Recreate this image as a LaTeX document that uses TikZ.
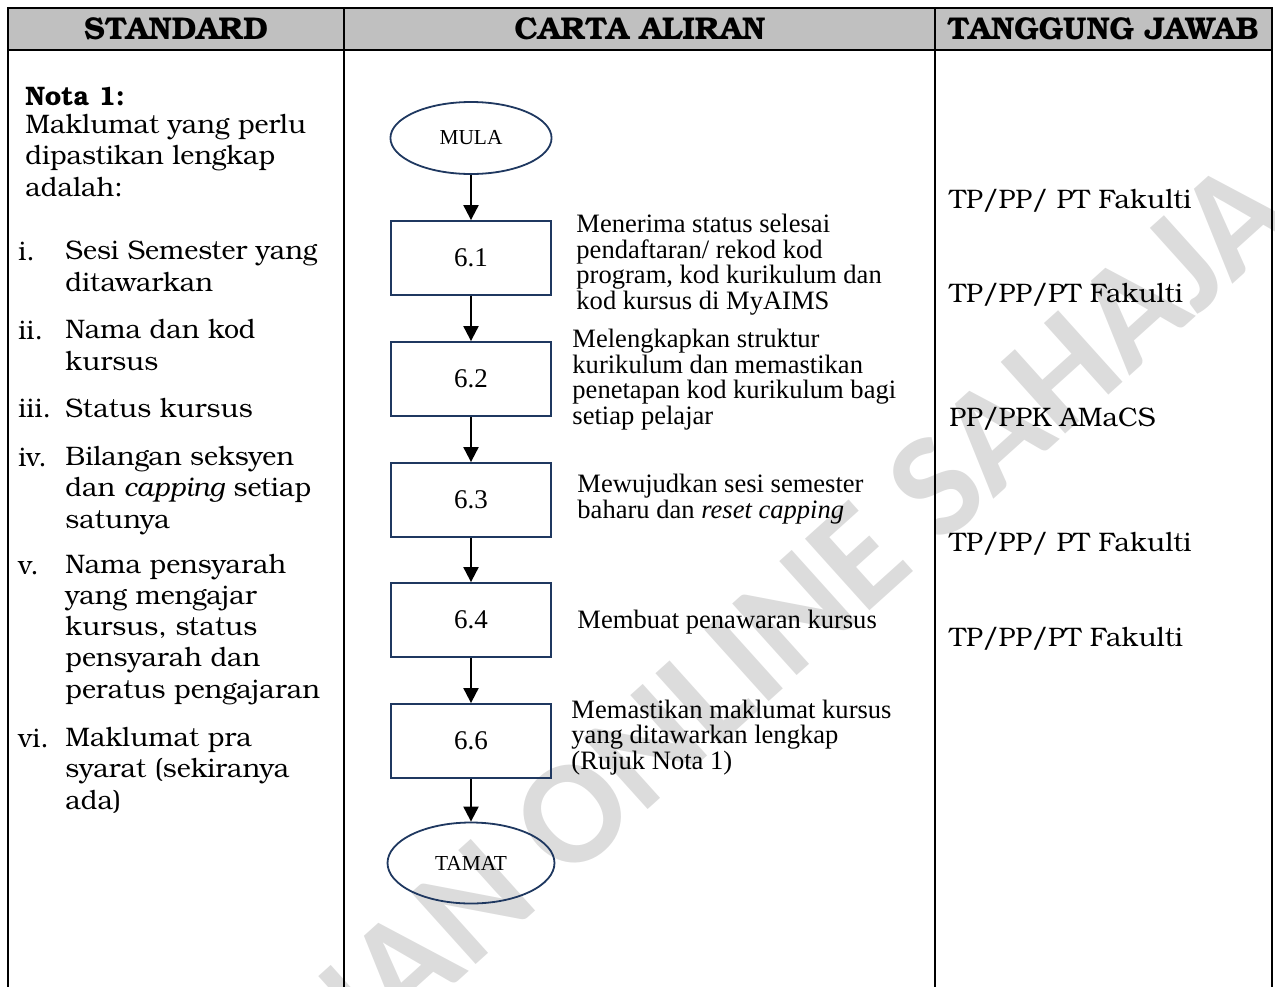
\documentclass[tikz,border=0pt]{standalone}
\usepackage{fontspec}
\usetikzlibrary{arrows.meta,shapes.geometric}
\IfFontExistsTF{TeX Gyre Bonum}{\setmainfont{TeX Gyre Bonum}}{\setmainfont{DejaVu Serif}}
\newfontfamily\flowfont{Liberation Serif}
\newfontfamily\wmfont{Carlito}
\definecolor{navy}{RGB}{31,56,96}
\definecolor{hdrgray}{RGB}{192,192,192}
\definecolor{wmgray}{RGB}{220,220,220}
\tikzset{
  grid/.style={line width=1.3pt, black},
  hdr/.style={font=\fontsize{14}{16}\selectfont\bfseries, anchor=base, inner sep=0pt},
  lefttxt/.style={font=\fontsize{11.9}{13.8}\selectfont, anchor=base west, align=left, inner sep=0pt},
  resp/.style={font=\fontsize{11.9}{13.8}\selectfont, anchor=base west, inner sep=0pt},
  stepbox/.style={draw=navy, line width=0.8pt, minimum width=71.1pt, minimum height=32.9pt, inner sep=0pt, font=\flowfont\fontsize{12}{13}\selectfont},
  term/.style={ellipse, draw=navy, line width=0.8pt, inner sep=0pt, font=\flowfont\fontsize{9.5}{11}\selectfont},
  desc/.style={font=\flowfont\fontsize{11.8}{11.3}\selectfont, anchor=base west, align=left, inner sep=0pt},
  flow/.style={line width=0.9pt, -{Triangle[length=6.7pt,width=6.7pt]}},
  wm/.style={font=\wmfont\bfseries\fontsize{66}{66}\selectfont, text=wmgray, inner sep=0pt},
}
\begin{document}
\begin{tikzpicture}[x=0.4444pt,y=-0.4444pt]
\useasboundingbox (0,0) rectangle (1275,986);
% watermark
\begin{scope}
\clip (0,0) rectangle (1275,986);
\node[wm, rotate=42] (wm) at (685,712) {SALINAN ONLINE SAHAJA};
\end{scope}
% table
\fill[hdrgray] (8,8) rectangle (1272,50);
\draw[grid, line cap=rect] (8,992) -- (8,8) -- (1272,8) -- (1272,992);
\draw[grid] (8,50) -- (1272,50);
\draw[grid] (344,8) -- (344,992);
\draw[grid] (935,8) -- (935,992);
% headers
\node[hdr] (h1) at (176,39) {STANDARD};
\node[hdr] (h2) at (640,39) {CARTA ALIRAN};
\node[hdr] (h3) at (1103,39) {TANGGUNG JAWAB};
% left column (multi-line nodes are placed by the baseline of their last line)
\node[lefttxt] (nota) at (25,105) {\textbf{Nota 1:}};
\node[lefttxt] (intro) at (25,196) {Maklumat yang perlu\\dipastikan lengkap\\adalah:};
\node[lefttxt] (n1) at (18,260) {i.};
\node[lefttxt] (t1) at (65,291) {Sesi Semester yang\\ditawarkan};
\node[lefttxt] (n2) at (18,339) {ii.};
\node[lefttxt] (t2) at (65,370) {Nama dan kod\\kursus};
\node[lefttxt] (n3) at (18,417) {iii.};
\node[lefttxt] (t3) at (65,417) {Status kursus};
\node[lefttxt] (n4) at (18,466) {iv.};
\node[lefttxt] (t4) at (65,528) {Bilangan seksyen\\dan \textit{capping} setiap\\satunya};
\node[lefttxt] (n5) at (18,574) {v.};
\node[lefttxt] (t5) at (65,698) {Nama pensyarah\\yang mengajar\\kursus, status\\pensyarah dan\\peratus pengajaran};
\node[lefttxt] (n6) at (18,747) {vi.};
\node[lefttxt] (t6) at (65,809) {Maklumat pra\\syarat (sekiranya\\ada)};
% right column
\node[resp] (r1) at (949,208) {TP/PP/ PT Fakulti};
\node[resp] (r2) at (949,302) {TP/PP/PT Fakulti};
\node[resp] (r3) at (949,426) {PP/PPK AMaCS};
\node[resp] (r4) at (949,551) {TP/PP/ PT Fakulti};
\node[resp] (r5) at (949,646) {TP/PP/PT Fakulti};
% flowchart
\node[term, minimum width=71.6pt, minimum height=32pt] (mula) at (471,138) {MULA};
\node[stepbox] (b1) at (471,258) {6.1};
\node[stepbox] (b2) at (471,379) {6.2};
\node[stepbox] (b3) at (471,500) {6.3};
\node[stepbox] (b4) at (471,620) {6.4};
\node[stepbox] (b6) at (471,741) {6.6};
\node[term, minimum width=74.2pt, minimum height=36pt] (tamat) at (471,863) {TAMAT};
\draw[flow] (mula) -- (b1);
\draw[flow] (b1) -- (b2);
\draw[flow] (b2) -- (b3);
\draw[flow] (b3) -- (b4);
\draw[flow] (b4) -- (b6);
\draw[flow] (b6) -- (tamat);
% descriptions (placed by the baseline of their last line)
\node[desc] (d1) at (576,309) {Menerima status selesai\\pendaftaran/ rekod kod\\program, kod kurikulum dan\\kod kursus di MyAIMS};
\node[desc] (d2) at (572,424) {Melengkapkan struktur\\kurikulum dan memastikan\\penetapan kod kurikulum bagi\\setiap pelajar};
\node[desc] (d3) at (577,518) {Mewujudkan sesi semester\\baharu dan \textit{reset capping}};
\node[desc] (d4) at (577,628) {Membuat penawaran kursus};
\node[desc] (d6) at (571,769) {Memastikan maklumat kursus\\yang ditawarkan lengkap\\(Rujuk Nota 1)};
\end{tikzpicture}
\end{document}
